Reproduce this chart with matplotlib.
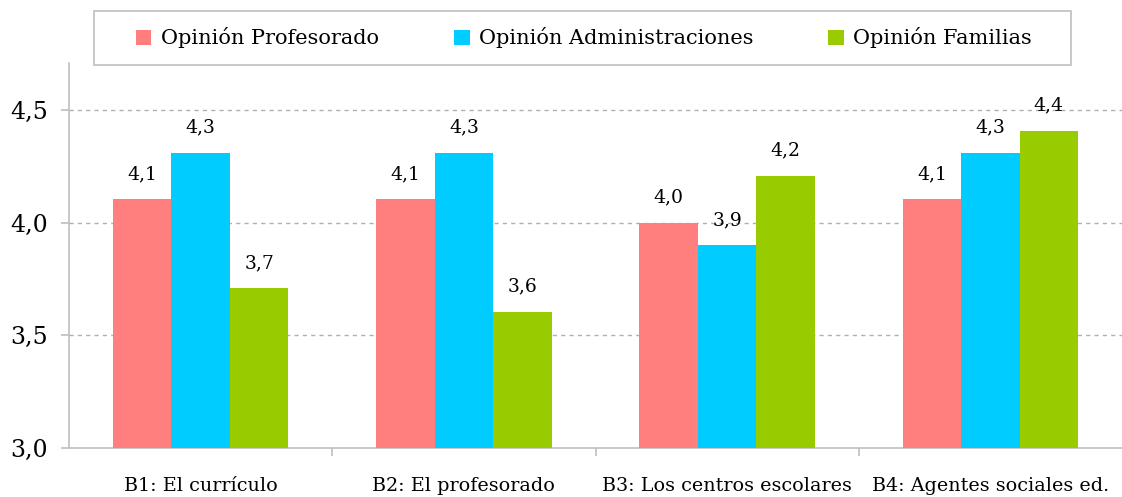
import numpy as np
import matplotlib.pyplot as plt
from matplotlib.ticker import FixedLocator
from matplotlib.patches import Rectangle

categories = ['B1: El currículo', 'B2: El profesorado', 'B3: Los centros escolares', 'B4: Agentes sociales ed.']
series = ['Opinión Profesorado', 'Opinión Administraciones', 'Opinión Familias']
profesorado = [4.105, 4.105, 4.00, 4.105]
administraciones = [4.31, 4.31, 3.90, 4.31]
familias = [3.71, 3.605, 4.21, 4.41]
colors = ['#FF7F7F', '#00CCFF', '#99CC00']

plt.rcParams['font.family'] = ['DejaVu Serif']

fig = plt.figure(figsize=(11.22, 4.97), dpi=100)
ax = fig.add_axes([69 / 1122, 1 - 448 / 497, (1122 - 69) / 1122, (448 - 63) / 497])

x = np.arange(len(categories))
w = 0.222
values = [profesorado, administraciones, familias]
for i, (name, vals, c) in enumerate(zip(series, values, colors)):
    pos = x + (i - 1) * w
    ax.bar(pos, vals, width=w, color=c, label=name, zorder=3)
    for p, v in zip(pos, vals):
        ax.text(p, v + 0.072, f'{v:.1f}'.replace('.', ','), ha='center', va='bottom', fontsize=13.5)

ax.set_xlim(-0.5, 3.5)
ax.set_ylim(3.0, 4.71)
ax.set_yticks([3.0, 3.5, 4.0, 4.5])
ax.set_yticklabels(['3,0', '3,5', '4,0', '4,5'], fontsize=17)
ax.set_xticks(x)
ax.set_xticklabels(categories, fontsize=13.8)
ax.xaxis.set_minor_locator(FixedLocator([0.5, 1.5, 2.5]))
ax.tick_params(axis='x', which='major', length=0, pad=21)
ax.tick_params(axis='x', which='minor', length=6, color='#bfbfbf', width=1.2)
ax.tick_params(axis='y', length=6, color='#bfbfbf', width=1.2, pad=9)

for y in [3.5, 4.0, 4.5]:
    ax.axhline(y, color='#b0b0b0', lw=1, ls=(0, (3, 3)), zorder=1)

for s in ['top', 'right']:
    ax.spines[s].set_visible(False)
for s in ['left', 'bottom']:
    ax.spines[s].set_color('#bfbfbf')
    ax.spines[s].set_linewidth(1.2)

# legend frame drawn separately, entries centred inside
fig.patches.append(Rectangle((94 / 1122, 1 - 65 / 497), (1071 - 94) / 1122, 54 / 497,
                             transform=fig.transFigure, facecolor='white',
                             edgecolor='#bfbfbf', lw=1.2, zorder=0))
fig.legend(loc='center', bbox_to_anchor=(584 / 1122, 1 - 38 / 497), ncol=3, fontsize=15,
           frameon=False, handlelength=0.75, handleheight=0.75, handletextpad=0.45,
           columnspacing=3.6, borderaxespad=0)

fig.savefig('out.png', dpi=100)
